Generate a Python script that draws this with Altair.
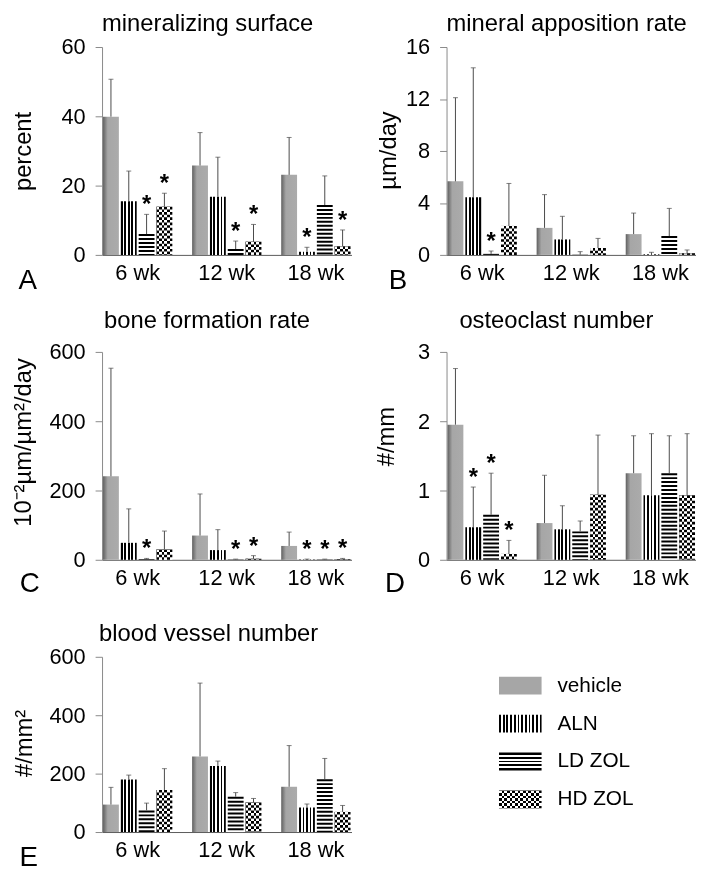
import altair as alt
import pandas as pd

FONT = "Liberation Sans"

groups = ["vehicle", "ALN", "LD ZOL", "HD ZOL"]
times = ["6 wk", "12 wk", "18 wk"]

# A: mineralizing surface (percent)
ms_mean = [[39.9, 15.5, 6.0, 13.9], [25.8, 16.8, 1.7, 3.8], [23.1, 0.9, 14.4, 2.5]]
ms_sd = [[10.8, 8.7, 5.7, 3.9], [9.5, 11.4, 2.3, 5.0], [10.8, 1.3, 8.4, 4.7]]
ms_sig = [[0, 0, 1, 1], [0, 0, 1, 1], [0, 1, 0, 1]]

# B: mineral apposition rate (um/day)
mar_mean = [[5.66, 4.44, 0.08, 2.23], [2.08, 1.19, 0.02, 0.53], [1.60, 0.05, 1.45, 0.13]]
mar_sd = [[6.44, 9.96, 0.22, 3.27], [2.56, 1.78, 0.23, 0.74], [1.62, 0.15, 2.13, 0.25]]
mar_sig = [[0, 0, 1, 0], [0, 0, 0, 0], [0, 0, 0, 0]]

# C: bone formation rate
bfr_mean = [[241, 49, 2, 30], [70, 28, 1, 3], [40, 1, 1, 2]]
bfr_sd = [[312, 98, 2, 53], [120, 59, 1, 9], [40, 1, 1, 2]]
bfr_sig = [[0, 0, 1, 0], [0, 0, 1, 1], [0, 1, 1, 1]]

# D: osteoclast number (#/mm)
oc_mean = [[1.95, 0.47, 0.65, 0.085], [0.53, 0.44, 0.41, 0.94], [1.25, 0.93, 1.25, 0.93]]
oc_sd = [[0.81, 0.58, 0.60, 0.195], [0.69, 0.34, 0.15, 0.86], [0.54, 0.89, 0.54, 0.89]]
oc_sig = [[0, 1, 1, 1], [0, 0, 0, 0], [0, 0, 0, 0]]

# E: blood vessel number (#/mm2)
bv_mean = [[94, 180, 74, 144], [259, 226, 121, 101], [155, 84, 181, 69]]
bv_sd = [[59, 15, 25, 73], [251, 17, 14, 14], [141, 12, 71, 22]]
bv_sig = [[0, 0, 0, 0], [0, 0, 0, 0], [0, 0, 0, 0]]


def make_df(mean, sd, sig):
    rows = []
    for ti, t in enumerate(times):
        for gi, g in enumerate(groups):
            rows.append({"time": t, "group": g, "mean": mean[ti][gi],
                         "sd": sd[ti][gi], "sig": sig[ti][gi]})
    return pd.DataFrame(rows)


def stripes(n, first, second, across=True):
    stops = []
    for k in range(n):
        c = first if k % 2 == 0 else second
        stops.append({"offset": k / n, "color": c})
        stops.append({"offset": (k + 1) / n, "color": c})
    g = {"gradient": "linear", "stops": stops}
    if across:
        g.update(x1=0, x2=1, y1=0, y2=0)
    else:
        g.update(x1=0, x2=0, y1=0, y2=1)
    return g


VEH = {"gradient": "linear", "x1": 0, "x2": 1, "y1": 0, "y2": 0,
       "stops": [{"offset": 0, "color": "#5f5f5f"}, {"offset": 0.12, "color": "#7d7d7d"},
                 {"offset": 0.3, "color": "#a6a6a6"}, {"offset": 1, "color": "#ababab"}]}
ALN_FILL = stripes(9, "black", "white", True)
HD_OVER = stripes(6, "white", "black", True)
BW = 16
CELL = BW / 6


def panel(mean, sd, sig, ymax, yticks, ytitle, title, tdx, toff, tx, ty,
          letter, lx, ly, h):
    df = make_df(mean, sd, sig)
    x = alt.X("time:N", sort=times,
              scale=alt.Scale(domain=times, paddingInner=0.2, paddingOuter=0),
              axis=alt.Axis(title=None, labelAngle=0, ticks=False, domainColor="#5a5a5a",
                            labelFontSize=22, labelPadding=8, labelColor="black"))
    xo = alt.XOffset("group:N", sort=groups,
                     scale=alt.Scale(domain=groups, paddingInner=0, paddingOuter=0))
    yaxis = alt.Axis(values=yticks, grid=False, domainColor="#8a8a8a", tickColor="#8a8a8a",
                     tickSize=7, labelFontSize=22, labelPadding=10, labelColor="black",
                     title=ytitle, titleFontSize=24, titleFontWeight="normal",
                     titleColor="black", titleX=tx, titleY=ty, titleAngle=270,
                     titleBaseline="bottom", titleAlign="center")
    ysc = alt.Scale(domain=[0, ymax], nice=False, zero=True)

    def Y(f):
        return alt.Y(f, type="quantitative", scale=ysc, axis=yaxis)

    base = alt.Chart(df).transform_calculate(
        upper="datum.mean + datum.sd", zero="0").encode(x=x, xOffset=xo)

    veh = base.transform_filter(alt.datum.group == "vehicle").mark_bar(
        width=BW, fill=VEH).encode(y=Y("mean"))
    aln = base.transform_filter(alt.datum.group == "ALN").mark_bar(
        width=BW, fill=ALN_FILL).encode(y=Y("mean"))
    zol_base = base.transform_filter(
        (alt.datum.group == "LD ZOL") | (alt.datum.group == "HD ZOL")).mark_bar(
        width=BW, fill="white").encode(y=Y("mean"))
    ld_str = base.transform_filter(alt.datum.group == "LD ZOL").mark_rule(
        strokeWidth=BW, color="black", strokeDash=[2, 2], strokeCap="butt").encode(
        y=Y("mean"), y2=alt.Y2("zero:Q"))
    hd_str = base.transform_filter(alt.datum.group == "HD ZOL").mark_rule(
        strokeWidth=BW, color="black", strokeDash=[CELL, CELL], strokeCap="butt").encode(
        y=Y("mean"), y2=alt.Y2("zero:Q"))
    hd_over = base.transform_filter(alt.datum.group == "HD ZOL").mark_bar(
        width=BW, fill=HD_OVER, blend="difference").encode(y=Y("mean"))
    err = base.mark_rule(color="#4a4a4a", strokeWidth=1).encode(
        y=Y("mean"), y2=alt.Y2("upper:Q"))
    cap = base.mark_tick(color="#4a4a4a", thickness=1, size=5).encode(y=Y("upper"))
    star = base.transform_filter(alt.datum.sig == 1).mark_text(
        text="*", fontSize=24, fontWeight="bold", dy=-2, baseline="alphabetic",
        color="black").encode(y=Y("upper"))
    ann = pd.DataFrame({"t": [letter, title], "kind": ["letter", "title"]})
    lab = alt.Chart(ann).transform_filter(alt.datum.kind == "letter").mark_text(
        fontSize=28, align="center", baseline="alphabetic", color="black").encode(
        text="t:N", x=alt.value(lx), y=alt.value(ly))
    ttl = alt.Chart(ann).transform_filter(alt.datum.kind == "title").mark_text(
        fontSize=24, align="left", baseline="alphabetic", color="black").encode(
        text="t:N", x=alt.value(tdx), y=alt.value(-toff))

    return alt.layer(veh, aln, zol_base, ld_str, hd_str, hd_over, err, cap, star,
                     lab, ttl).properties(width=252, height=h)


pA = panel(ms_mean, ms_sd, ms_sig, 60, [0, 20, 40, 60], "percent",
           "mineralizing surface", 0, 16, -67, 105, "A", -75, 244, 210)
pB = panel(mar_mean, mar_sd, mar_sig, 16, [0, 4, 8, 12, 16], "\u00b5m/day",
           "mineral apposition rate", 0, 16, -47, 104, "B", -49, 244, 210)
pC = panel(bfr_mean, bfr_sd, bfr_sig, 600, [0, 200, 400, 600],
           "10\u207b\u00b2\u00b5m/\u00b5m\u00b2/day",
           "bone formation rate", 2, 24, -67, 91, "C", -73, 243, 210)
pD = panel(oc_mean, oc_sd, oc_sig, 3, [0, 1, 2, 3], "#/mm",
           "osteoclast number", 13, 24, -49, 85, "D", -52, 243, 210)
pE = panel(bv_mean, bv_sd, bv_sig, 600, [0, 200, 400, 600], "#/mm\u00b2",
           "blood vessel number", -3, 16, -66, 87, "E", -74, 211, 177)

# legend panel
leg_df = pd.DataFrame({"group": groups})
ly = alt.Y("group:N", sort=groups,
           scale=alt.Scale(domain=groups, range=[10, 163.2], paddingInner=0.53,
                           paddingOuter=0.265), axis=None)
lbase = alt.Chart(leg_df).encode(y=ly)
sw_x = dict(x=alt.value(53), x2=alt.value(96))
l_veh = lbase.transform_filter(alt.datum.group == "vehicle").mark_bar(
    fill="#a6a6a6").encode(**sw_x)
l_aln = lbase.transform_filter(alt.datum.group == "ALN").mark_bar(
    fill=stripes(23, "black", "white", True)).encode(**sw_x)
l_ld = lbase.transform_filter(alt.datum.group == "LD ZOL").mark_bar(
    fill=stripes(9, "black", "white", False)).encode(**sw_x)
l_hd = lbase.transform_filter(alt.datum.group == "HD ZOL").mark_bar(
    fill=stripes(7, "black", "white", False)).encode(**sw_x)
l_hd2 = lbase.transform_filter(alt.datum.group == "HD ZOL").mark_bar(
    fill=stripes(16, "white", "black", True), blend="difference").encode(**sw_x)
l_txt = lbase.mark_text(align="left", baseline="middle", fontSize=21,
                        color="black").encode(x=alt.value(112), text="group:N")
legend = alt.layer(l_veh, l_aln, l_ld, l_hd, l_hd2, l_txt).properties(width=252, height=177)

chart = alt.concat(pA, pB, pC, pD, pE, legend, columns=2,
                   spacing={"row": 98, "column": 96}, bounds="flush").properties(
    padding={"left": 4, "top": 0, "right": 0, "bottom": 0}
).configure_view(stroke=None).configure_axis(
    labelFont=FONT, titleFont=FONT).configure_text(font=FONT)

chart.save("out.html", embed_options={"renderer": "svg", "actions": False})
